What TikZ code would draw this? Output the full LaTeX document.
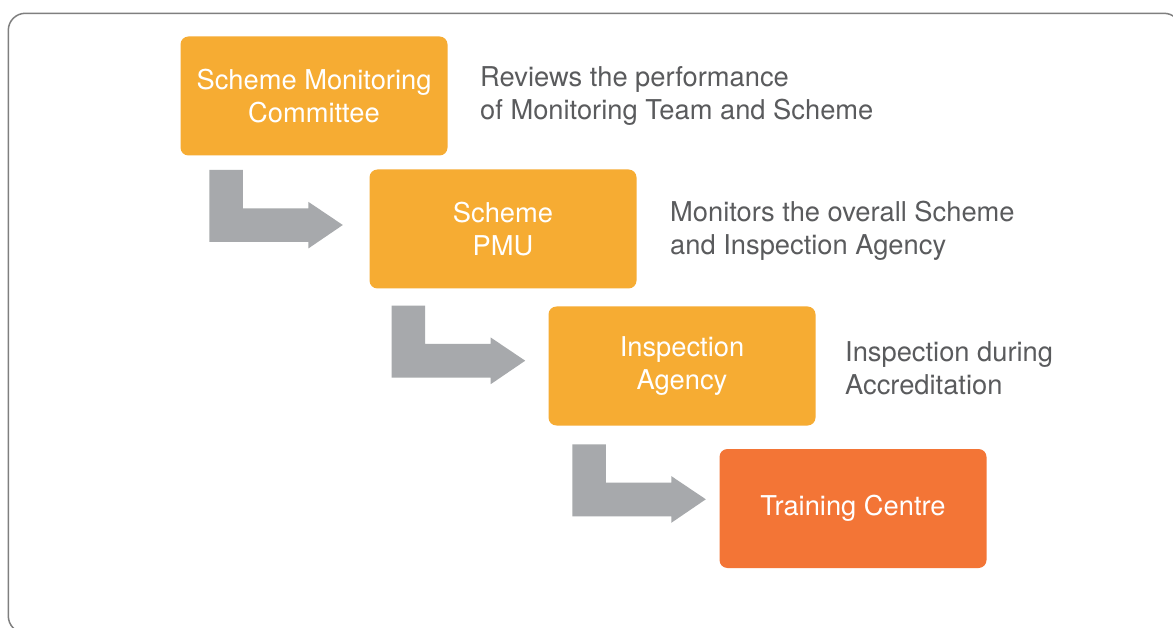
\documentclass[tikz,border=0pt]{standalone}
\usepackage{fontspec}
\setmainfont{TeX Gyre Heros}
\definecolor{boxorange}{HTML}{F6AC33}
\definecolor{boxred}{HTML}{F37536}
\definecolor{arrowgray}{HTML}{A7A9AC}
\definecolor{descgray}{HTML}{5A5B5D}
\definecolor{framegray}{HTML}{7F7F7F}
\newcommand\grayarrow[1]{%
  \fill[arrowgray] (#1) -- ++(33.5,0) -- ++(0,38.3) -- ++(65.5,0) -- ++(0,-6.5)
    -- ++(34.5,23.2) -- ++(-34.5,23.5) -- ++(0,-6.5) -- ++(-99,0) -- cycle;}
\begin{document}
\begin{tikzpicture}[x=1pt,y=-1pt,
  box/.style={rounded corners=8pt, minimum width=267pt, minimum height=119pt,
    inner sep=0pt, text=white, align=center, font=\fontsize{27.3}{32.5}\selectfont},
  desc/.style={anchor=base west, inner sep=0pt, align=left, text=descgray,
    font=\fontsize{27.3}{32.5}\selectfont}]
\useasboundingbox (0,0) rectangle (1173,628);
\fill[white] (0,0) rectangle (1173,628);
\draw[framegray, line width=1.5pt, rounded corners=17pt] (8.3,13.3) rectangle (1181,633);

\node[box, fill=boxorange] (b1) at (314,96) {Scheme Monitoring\\Committee};
\node[box, fill=boxorange] (b2) at (503,229) {Scheme\\PMU};
\node[box, fill=boxorange] (b3) at (682,366) {Inspection\\Agency};
\node[box, fill=boxred] (b4) at (853,508.5) {Training Centre};

\node[desc] (d1) at (480,119.5) {Reviews the performance\\of Monitoring Team and Scheme};
\node[desc] (d2) at (670,254.3) {Monitors the overall Scheme\\and Inspection Agency};
\node[desc] (d3) at (845,394) {Inspection during\\Accreditation};

\coordinate (a1) at (209.3,170);
\coordinate (a2) at (391.7,305.7);
\coordinate (a3) at (572.3,444.3);
\grayarrow{a1}
\grayarrow{a2}
\grayarrow{a3}
\end{tikzpicture}
\end{document}
